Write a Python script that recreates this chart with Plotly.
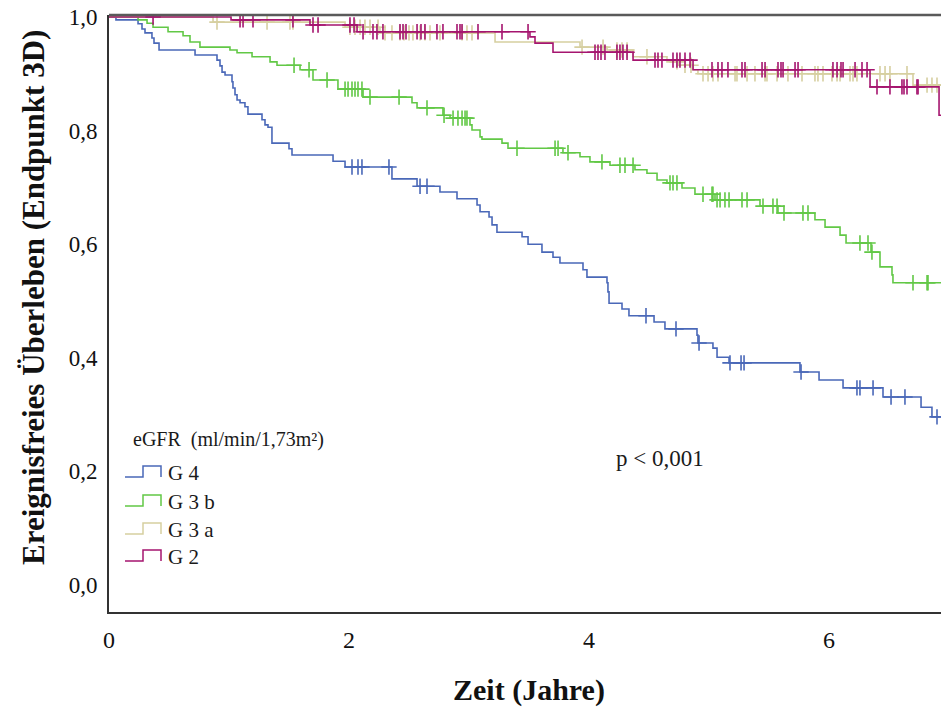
import numpy as np
import plotly.graph_objects as go

# Kaplan-Meier estimates, event-free survival (endpoint 3D) by eGFR group.
# *_t: times (years) of the steps, *_s: survival after each step,
# *_cens: times of censored observations.

g4_t = [0, 0.058, 0.242, 0.275, 0.300, 0.358, 0.375, 0.417, 0.717, 0.900, 0.925, 0.942,
        0.967, 1.025, 1.033, 1.050, 1.067, 1.092, 1.133, 1.158, 1.275, 1.300, 1.325,
        1.358, 1.500, 1.525, 1.867, 1.967, 2.358, 2.567, 2.758, 2.900, 3.067, 3.092,
        3.167, 3.192, 3.233, 3.442, 3.492, 3.608, 3.700, 3.758, 3.950, 3.983, 4.150,
        4.158, 4.167, 4.275, 4.333, 4.542, 4.633, 4.900, 4.908, 5.033, 5.067, 5.167,
        5.758, 5.917, 6.117, 6.450, 6.767, 6.858]
g4_s = [1.0, 0.995, 0.988, 0.979, 0.972, 0.963, 0.954, 0.942, 0.933, 0.924, 0.914, 0.903,
        0.898, 0.886, 0.875, 0.863, 0.854, 0.849, 0.842, 0.829, 0.819, 0.810, 0.806,
        0.778, 0.768, 0.757, 0.746, 0.736, 0.715, 0.702, 0.692, 0.680, 0.669, 0.657,
        0.648, 0.634, 0.621, 0.613, 0.600, 0.586, 0.577, 0.567, 0.555, 0.542, 0.532,
        0.516, 0.496, 0.486, 0.474, 0.463, 0.451, 0.440, 0.426, 0.417, 0.401, 0.391,
        0.375, 0.361, 0.347, 0.331, 0.313, 0.296]
g4_cens = [2.025, 2.075, 2.108, 2.333, 2.592, 2.650, 4.475, 4.725, 4.917, 5.175, 5.267,
           5.292, 5.767, 6.233, 6.258, 6.367, 6.517, 6.633, 6.900]

g3b_t = [0, 0.242, 0.317, 0.367, 0.492, 0.617, 0.675, 0.758, 1.008, 1.067, 1.192, 1.342,
         1.400, 1.592, 1.700, 1.908, 2.117, 2.525, 2.567, 2.783, 2.842, 3.008, 3.025,
         3.092, 3.108, 3.275, 3.325, 3.783, 3.925, 4.008, 4.175, 4.383, 4.483, 4.567,
         4.650, 4.775, 4.883, 5.050, 5.425, 5.575, 5.883, 5.967, 6.092, 6.142, 6.350,
         6.425, 6.525, 6.533]
g3b_s = [1.0, 0.995, 0.989, 0.982, 0.974, 0.967, 0.956, 0.947, 0.942, 0.937, 0.930, 0.921,
         0.915, 0.907, 0.889, 0.873, 0.859, 0.849, 0.840, 0.827, 0.822, 0.810, 0.801,
         0.789, 0.785, 0.778, 0.769, 0.761, 0.754, 0.745, 0.739, 0.731, 0.725, 0.713,
         0.708, 0.699, 0.688, 0.678, 0.667, 0.655, 0.643, 0.630, 0.616, 0.602, 0.586,
         0.560, 0.546, 0.532]
g3b_cens = [1.542, 1.667, 1.817, 1.967, 1.992, 2.025, 2.050, 2.075, 2.108, 2.175, 2.417,
            2.650, 2.792, 2.867, 2.908, 2.942, 2.967, 2.983, 3.400, 3.717, 3.742, 3.825,
            4.108, 4.258, 4.300, 4.367, 4.675, 4.700, 4.733, 4.950, 5.025, 5.033, 5.067,
            5.092, 5.133, 5.167, 5.275, 5.317, 5.450, 5.533, 5.567, 5.625, 5.783, 5.825,
            6.258, 6.325, 6.358, 6.700, 6.817, 6.825]

g3a_t = [0, 0.867, 1.967, 2.258, 3.217, 3.925, 4.150, 4.367, 4.650, 4.742, 4.867, 4.908,
         6.700]
g3a_s = [1.0, 0.991, 0.982, 0.972, 0.956, 0.947, 0.942, 0.930, 0.921, 0.915, 0.907, 0.900,
         0.880]
g3a_cens = [0.900, 1.317, 1.508, 1.533, 2.008, 2.050, 2.092, 2.133, 2.175, 2.242, 2.300,
            2.358, 2.425, 2.458, 2.500, 2.533, 2.592, 2.633, 2.675, 2.758, 2.942, 2.983,
            3.025, 3.942, 4.117, 4.233, 4.275, 4.317, 4.483, 4.733, 4.800, 4.850, 4.950,
            4.992, 5.033, 5.075, 5.217, 5.233, 5.317, 5.383, 5.467, 5.483, 5.567, 5.658,
            5.775, 5.883, 5.908, 5.950, 6.025, 6.067, 6.092, 6.175, 6.200, 6.233, 6.425,
            6.467, 6.508, 6.650, 6.817, 6.858, 6.900]

g2_t = [0, 1.017, 1.675, 2.067, 3.508, 3.550, 3.700, 4.367, 4.867, 6.342, 6.917]
g2_s = [1.0, 0.995, 0.986, 0.974, 0.965, 0.954, 0.938, 0.924, 0.907, 0.877, 0.827]
g2_cens = [0.367, 1.092, 1.117, 1.200, 1.533, 1.700, 1.742, 2.008, 2.042, 2.117, 2.200,
           2.233, 2.283, 2.425, 2.450, 2.475, 2.567, 2.600, 2.633, 2.733, 2.783, 2.900,
           2.925, 2.942, 3.075, 3.275, 3.492, 4.050, 4.075, 4.100, 4.133, 4.233, 4.258,
           4.283, 4.317, 4.550, 4.575, 4.608, 4.700, 4.733, 4.758, 4.800, 4.842, 5.025,
           5.075, 5.108, 5.158, 5.275, 5.300, 5.442, 5.467, 5.575, 5.600, 5.617, 5.717,
           5.742, 6.033, 6.067, 6.100, 6.117, 6.217, 6.275, 6.317, 6.400, 6.508, 6.608,
           6.625, 6.650, 6.733, 6.742]

followup_end = 6.95

group_names = ["G 4", "G 3 b", "G 3 a", "G 2"]
group_colors = ["#4a68b8", "#62c846", "#d6cfa0", "#a5156f"]
groups = [(g4_t, g4_s, g4_cens), (g3b_t, g3b_s, g3b_cens),
          (g3a_t, g3a_s, g3a_cens), (g2_t, g2_s, g2_cens)]

y_ticks = [0.0, 0.2, 0.4, 0.6, 0.8, 1.0]
x_ticks = [0, 2, 4, 6]

SERIF = "Liberation Serif, Times New Roman, serif"

fig = go.Figure()

for name, color, (t, s, cens) in zip(group_names, group_colors, groups):
    t = np.asarray(t, dtype=float)
    s = np.asarray(s, dtype=float)
    xs = np.append(t, followup_end)
    ys = np.append(s, s[-1])
    fig.add_trace(go.Scatter(
        x=xs, y=ys, mode="lines", line=dict(color=color, width=1.6, shape="hv"),
        name=name, showlegend=False, hoverinfo="skip"))
    c = np.asarray(cens, dtype=float)
    idx = np.searchsorted(t, c, side="right") - 1
    fig.add_trace(go.Scatter(
        x=c, y=s[idx], mode="markers",
        marker=dict(symbol="cross-thin", size=11, color=color,
                    line=dict(color=color, width=1.6)),
        showlegend=False, hoverinfo="skip"))

# plot frame: paper coordinates of the data area
L, R, T, B = 109, 941, 15, 612
W, H = R - L, B - T


def px(x):
    return (x - L) / W


def py(y):
    return (B - y) / H


shapes = [dict(type="line", xref="paper", yref="paper", x0=0, x1=1, y0=1, y1=1,
               line=dict(color="#5a5a5a", width=2.5))]

# step-shaped legend keys
legend_rows = [473, 502, 530, 557]
for color, yc in zip(group_colors, legend_rows):
    lo, hi = py(yc + 4), py(yc - 7)
    path = (f"M {px(125)},{lo} L {px(143)},{lo} L {px(143)},{hi} "
            f"L {px(161)},{hi} L {px(161)},{lo}")
    shapes.append(dict(type="path", xref="paper", yref="paper", path=path,
                       line=dict(color=color, width=1.5)))

annotations = [
    dict(text="eGFR  (ml/min/1,73m²)", xref="paper", yref="paper", x=px(131), y=py(440),
         xanchor="left", yanchor="middle", showarrow=False,
         font=dict(family=SERIF, size=20, color="#1a1a1a")),
    dict(text="p < 0,001", xref="paper", yref="paper", x=px(614), y=py(458),
         xanchor="left", yanchor="middle", showarrow=False,
         font=dict(family=SERIF, size=23, color="#1a1a1a")),
    dict(text="<b>Ereignisfreies Überleben (Endpunkt 3D)</b>", xref="paper", yref="paper",
         x=px(33), y=py(298), xanchor="center", yanchor="middle", textangle=-90,
         showarrow=False, font=dict(family=SERIF, size=31, color="#111")),
    dict(text="<b>Zeit (Jahre)</b>", xref="paper", yref="paper", x=px(529), y=py(690),
         xanchor="center", yanchor="middle", showarrow=False,
         font=dict(family=SERIF, size=30, color="#111")),
]
for name, yc in zip(group_names, legend_rows):
    annotations.append(dict(text=name, xref="paper", yref="paper", x=px(166), y=py(yc),
                            xanchor="left", yanchor="middle", showarrow=False,
                            font=dict(family=SERIF, size=21, color="#1a1a1a")))

y_top = 1 + 2 / 568
y_bot = -27 / 568

fig.update_layout(
    width=941, height=708,
    margin=dict(l=L, r=941 - R, t=T, b=708 - B, pad=0),
    paper_bgcolor="white", plot_bgcolor="white",
    separators=",.",
    showlegend=False,
    shapes=shapes,
    annotations=annotations,
    xaxis=dict(range=[0, W / 120], tickvals=x_ticks, ticktext=[str(v) for v in x_ticks],
               showgrid=False, zeroline=False, showline=True, linecolor="#333",
               linewidth=2, ticks="", ticklabelstandoff=5,
               tickfont=dict(family=SERIF, size=24, color="#111")),
    yaxis=dict(range=[y_bot, y_top], tickvals=y_ticks, tickformat=".1f",
               showgrid=False, zeroline=False, showline=True, linecolor="#333",
               linewidth=2, ticks="", ticklabelstandoff=5,
               tickfont=dict(family=SERIF, size=23, color="#111")),
)

fig.write_html("out.html")
